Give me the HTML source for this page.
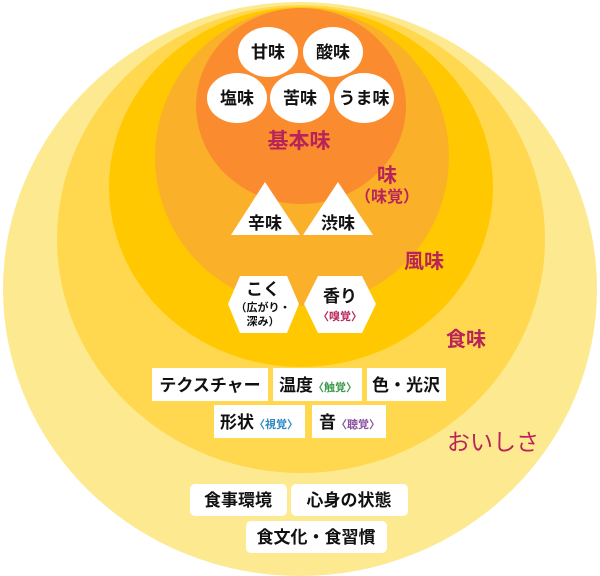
<!DOCTYPE html>
<html><head><meta charset="utf-8"><style>
html,body{margin:0;padding:0;background:#fff;}
svg{display:block;}
text{font-family:"Liberation Sans","Noto Sans CJK JP",sans-serif;font-weight:bold;}
.b{fill:#111;font-size:17px;}
.r{fill:#b8245a;}
</style></head><body>
<svg width="600" height="576" viewBox="0 0 600 576" xmlns="http://www.w3.org/2000/svg">
<ellipse cx="300" cy="289" rx="297" ry="287" fill="#fde98f"/>
<ellipse cx="301" cy="239" rx="244" ry="234" fill="#ffd84f"/>
<ellipse cx="301" cy="187" rx="192" ry="180" fill="#ffc800"/>
<ellipse cx="302" cy="157" rx="147" ry="149" fill="#fbb02a"/>
<ellipse cx="301" cy="106" rx="105" ry="98" fill="#fa8c2f"/>
<g fill="#fff">
<ellipse cx="268" cy="52" rx="30" ry="25"/>
<ellipse cx="333" cy="52" rx="30" ry="25"/>
<ellipse cx="237" cy="98" rx="30" ry="25"/>
<ellipse cx="300" cy="98" rx="30" ry="25"/>
<ellipse cx="364" cy="98" rx="30" ry="25"/>
<polygon points="265,182 231,235 300,235"/>
<polygon points="338,182 303,235 373,235"/>
<polygon points="240,276 287,276 299,304 287,333 240,333 228,304"/>
<polygon points="318,276 362,276 376,304 362,333 318,333 304,304"/>
<rect x="152" y="368" width="116" height="33"/>
<rect x="273" y="368" width="89" height="33"/>
<rect x="367" y="368" width="79" height="33"/>
<rect x="214" y="405" width="91" height="33"/>
<rect x="312" y="405" width="74" height="33"/>
<rect x="190" y="484" width="97" height="32" rx="5"/>
<rect x="291" y="484" width="117" height="32" rx="5"/>
<rect x="246" y="521" width="141" height="32" rx="5"/>
</g>
<g class="b" text-anchor="middle">
<text x="268" y="58">甘味</text>
<text x="333" y="58">酸味</text>
<text x="237" y="104">塩味</text>
<text x="300" y="104">苦味</text>
<text x="364" y="104">うま味</text>
<text x="265" y="229">辛味</text>
<text x="338" y="229">渋味</text>
<text x="263" y="295">こく</text>
<text x="263" y="311" style="font-size:11px">（広がり・</text>
<text x="263" y="325" style="font-size:11px">深み）</text>
<text x="340" y="302">香り</text>
<text x="340" y="320" style="font-size:11px;fill:#b8245a">〈嗅覚〉</text>
<text x="210" y="391">テクスチャー</text>
<text x="238" y="506">食事環境</text>
<text x="349" y="506">心身の状態</text>
<text x="316" y="543">食文化・食習慣</text>
<text x="406" y="391">色・光沢</text>
</g>
<g class="b">
<text x="279" y="391">温度<tspan style="font-size:11px;fill:#3a9a4a">〈触覚〉</tspan></text>
<text x="220" y="428">形状<tspan style="font-size:11px;fill:#2a88c0">〈視覚〉</tspan></text>
<text x="319" y="428">音<tspan style="font-size:11px;fill:#8a50a0">〈聴覚〉</tspan></text>
</g>
<g class="r" text-anchor="middle">
<text x="299" y="148" style="font-size:21px">基本味</text>
<text x="387" y="182" style="font-size:20px">味</text>
<text x="387" y="202" style="font-size:16px">（味覚）</text>
<text x="424" y="268" style="font-size:20px">風味</text>
<text x="466" y="346" style="font-size:20px">食味</text>
<text x="493" y="450" style="font-size:23px;font-weight:normal">おいしさ</text>
</g>
</svg>
</body></html>
